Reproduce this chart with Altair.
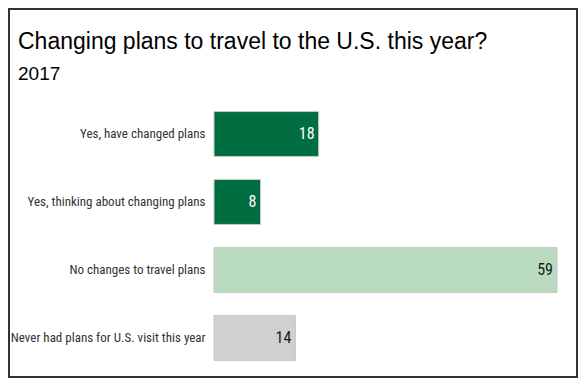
import altair as alt
import pandas as pd

title_text = "Changing plans to travel to the U.S. this year?"
subtitle_text = "2017"
categories = [
    "Yes, have changed plans",
    "Yes, thinking about changing plans",
    "No changes to travel plans",
    "Never had plans for U.S. visit this year",
]
values = [18, 8, 59, 14]
bar_colors = ["#006e41", "#006e41", "#b9dcc1", "#d0d0d0"]
text_colors = ["#ffffff", "#ffffff", "#1a1a1a", "#1a1a1a"]

df = pd.DataFrame({"cat": categories, "val": values, "fill": bar_colors, "tcol": text_colors})
tdf = pd.DataFrame({"t": [title_text], "s": [subtitle_text]})

LABEL_FONT = "Roboto Condensed"

y_enc = alt.Y("cat:N", sort=categories,
              scale=alt.Scale(paddingInner=0.34, paddingOuter=0.17),
              axis=alt.Axis(title=None, domain=False, ticks=False, labelPadding=9,
                            labelFont=LABEL_FONT, labelFontSize=13, labelColor="#333333",
                            labelLimit=300))
x_enc = alt.X("val:Q", scale=alt.Scale(domain=[0, 59], nice=False, zero=True),
              axis=None)

bars = alt.Chart(df).mark_bar(stroke="#c8c8c8", strokeWidth=1).encode(
    y=y_enc, x=x_enc, fill=alt.Fill("fill:N", scale=None)
)

labels = alt.Chart(df).mark_text(align="right", baseline="middle", dx=-4,
                                 font=LABEL_FONT, fontSize=16).encode(
    y=alt.Y("cat:N", sort=categories), x=alt.X("val:Q"),
    text=alt.Text("val:Q"), color=alt.Color("tcol:N", scale=None)
)

title = alt.Chart(tdf).mark_text(align="left", baseline="alphabetic", font="Liberation Sans",
                                 fontSize=23, color="#000000").encode(
    x=alt.value(-196), y=alt.value(-51), text="t:N"
)
subtitle = alt.Chart(tdf).mark_text(align="left", baseline="alphabetic", font="Liberation Sans",
                                    fontSize=19, color="#000000").encode(
    x=alt.value(-196), y=alt.value(-20), text="s:N"
)

border = alt.Chart(tdf).mark_rect(fill=None, stroke="#333333", strokeWidth=2).encode(
    x=alt.value(-205), x2=alt.value(363), y=alt.value(-91), y2=alt.value(277)
)

chart = alt.layer(border, title, subtitle, bars, labels).properties(
    width=343, height=272,
    autosize=alt.AutoSizeParams(type="none"),
    padding={"left": 206, "top": 92, "right": 21, "bottom": 6},
).configure(background="white").configure_view(stroke=None)

chart.save("out.html", embed_options={"renderer": "svg", "actions": False})
